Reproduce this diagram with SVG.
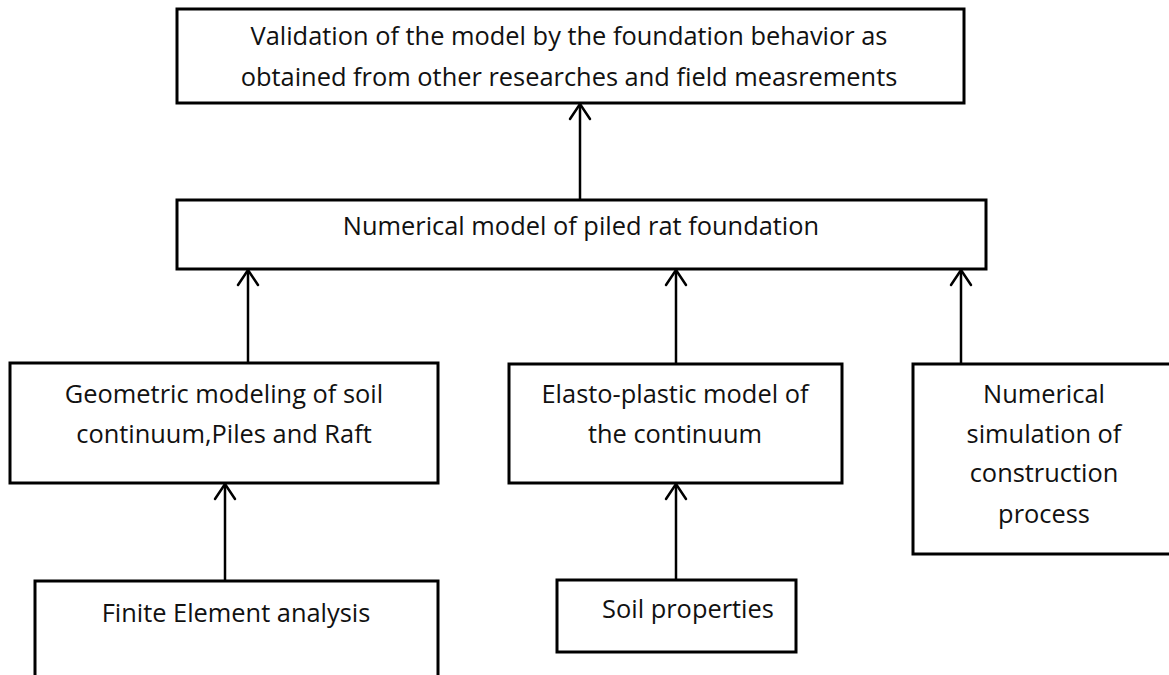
<svg xmlns="http://www.w3.org/2000/svg" width="1169" height="675" viewBox="0 0 1169 675">
  <style>
    .box { fill: #ffffff; stroke: #000000; stroke-width: 3; }
    .lbl { font-family: "Open Sans", "Liberation Sans", Arial, sans-serif; font-size: 25.4px; fill: #111111; text-anchor: middle; }
    .conn { stroke: #000000; stroke-width: 2.5; fill: none; }
    .head { stroke: #000000; stroke-width: 2.5; fill: none; stroke-linecap: round; stroke-linejoin: miter; }
  </style>
  <defs>
    <marker id="arr" viewBox="-12 -2 24 20" refX="0" refY="0" markerWidth="24" markerHeight="20" markerUnits="userSpaceOnUse" orient="0" overflow="visible">
      <path d="M -10 15 L 0 0 L 10 15" class="head"/>
    </marker>
  </defs>
  <rect width="1169" height="675" fill="#ffffff"/>

  <g id="connectors">
    <line class="conn" x1="580" y1="200" x2="580" y2="104" marker-end="url(#arr)"/>
    <line class="conn" x1="248" y1="363" x2="248" y2="270" marker-end="url(#arr)"/>
    <line class="conn" x1="676" y1="364" x2="676" y2="270" marker-end="url(#arr)"/>
    <line class="conn" x1="961" y1="364" x2="961" y2="270" marker-end="url(#arr)"/>
    <line class="conn" x1="225" y1="581" x2="225" y2="484" marker-end="url(#arr)"/>
    <line class="conn" x1="676" y1="580" x2="676" y2="484" marker-end="url(#arr)"/>
  </g>

  <g id="validation">
    <rect class="box" x="177" y="9" width="787" height="94"/>
    <text class="lbl" x="569" y="45">Validation of the model by the foundation behavior as</text>
    <text class="lbl" x="569" y="86">obtained from other researches and field measrements</text>
  </g>

  <g id="numerical-model">
    <rect class="box" x="177" y="200" width="809" height="69"/>
    <text class="lbl" x="581" y="235">Numerical model of piled rat foundation</text>
  </g>

  <g id="geometric">
    <rect class="box" x="10" y="363" width="428" height="120"/>
    <text class="lbl" x="224" y="403">Geometric modeling of soil</text>
    <text class="lbl" x="224" y="443">continuum,Piles and Raft</text>
  </g>

  <g id="elasto">
    <rect class="box" x="509" y="364" width="333" height="119"/>
    <text class="lbl" x="675" y="403">Elasto-plastic model of</text>
    <text class="lbl" x="675" y="443">the continuum</text>
  </g>

  <g id="simulation">
    <rect class="box" x="913" y="364" width="262" height="190"/>
    <text class="lbl" x="1044" y="403">Numerical</text>
    <text class="lbl" x="1044" y="443">simulation of</text>
    <text class="lbl" x="1044" y="482">construction</text>
    <text class="lbl" x="1044" y="523">process</text>
  </g>

  <g id="fea">
    <rect class="box" x="35" y="581" width="403" height="110"/>
    <text class="lbl" x="236" y="622">Finite Element analysis</text>
  </g>

  <g id="soil">
    <rect class="box" x="557" y="580" width="239" height="72"/>
    <text class="lbl" x="688" y="618">Soil properties</text>
  </g>
</svg>
